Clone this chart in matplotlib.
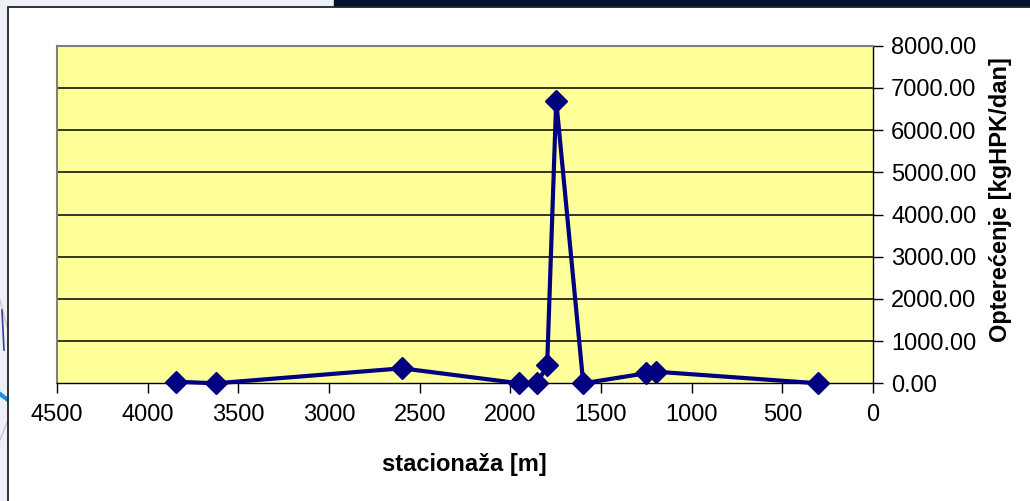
import matplotlib.pyplot as plt
from matplotlib.patches import Rectangle
from matplotlib.lines import Line2D

# stationing along the sewer [m] and load at each point [kgHPK/dan]
stacionaza = [3843, 3624, 2598, 1951, 1852, 1797, 1747, 1598, 1252, 1197, 302]
opterecenje = [38, 0, 355, 0, 0, 425, 6700, 0, 237, 275, 0]

x_ticks = [4500, 4000, 3500, 3000, 2500, 2000, 1500, 1000, 500, 0]
y_ticks = [0, 1000, 2000, 3000, 4000, 5000, 6000, 7000, 8000]

plt.rcParams['font.family'] = ['Liberation Sans', 'DejaVu Sans']

W, H = 1030, 501
fig = plt.figure(figsize=(W / 100, H / 100), dpi=100)
fig.patch.set_facecolor('#eef0f7')

def px(x, y):
    return x / W, 1 - y / H

# slide background bits around the chart frame
fig.patches.append(Rectangle(px(334, 7), (W - 334) / W, 7 / H,
                             transform=fig.transFigure, color='#02112f', zorder=0))
fig.lines.append(Line2D([0 / W, 8 / W], [1 - 300 / H, 1 - 330 / H], transform=fig.transFigure,
                        color='#e3b9c4', lw=1, zorder=0))
fig.lines.append(Line2D([0 / W, 8 / W], [1 - 440 / H, 1 - 420 / H], transform=fig.transFigure,
                        color='#e3b9c4', lw=1, zorder=0))
fig.lines.append(Line2D([2 / W, 4 / W], [1 - 310 / H, 1 - 350 / H], transform=fig.transFigure,
                        color='#3a3f9a', lw=1.2, zorder=0))
fig.lines.append(Line2D([0 / W, 8 / W], [1 - 394 / H, 1 - 400 / H], transform=fig.transFigure,
                        color='#1a8fe0', lw=3, zorder=0))

# white chart frame
fig.patches.append(Rectangle(px(8, 520), (W + 10) / W, (520 - 7) / H, transform=fig.transFigure,
                             facecolor='white', edgecolor='#222222', lw=1.3, zorder=1))

ax = fig.add_axes([57 / W, 1 - 383.3 / H, 816 / W, 337.6 / H], zorder=2)
ax.set_facecolor('#ffff99')

ax.plot(stacionaza, opterecenje, color='#000080', lw=3, marker='D', ms=11.5,
        markerfacecolor='#000080', markeredgecolor='#000080', clip_on=False, zorder=3)

ax.set_xlim(4500, 0)
ax.set_ylim(0, 8000)
ax.set_xticks(x_ticks)
ax.set_xticklabels([str(v) for v in x_ticks])
ax.set_yticks(y_ticks)
ax.set_yticklabels(['%.2f' % v for v in y_ticks])

ax.yaxis.tick_right()
ax.tick_params(axis='both', labelsize=17, direction='out', length=7, width=1, color='black')
ax.tick_params(axis='x', pad=8)
ax.tick_params(axis='y', pad=6)

for v in y_ticks[1:-1]:
    ax.axhline(v, color='black', lw=1.1, zorder=1)

ax.spines['top'].set_color('#808080')
ax.spines['left'].set_color('#808080')
ax.spines['top'].set_linewidth(1.5)
ax.spines['left'].set_linewidth(1.5)
ax.spines['right'].set_color('black')
ax.spines['bottom'].set_color('black')
ax.spines['right'].set_linewidth(1)
ax.spines['bottom'].set_linewidth(1)

fig.text(*px(464, 465), 'stacionaža [m]', ha='center', va='center',
         fontsize=17, fontweight='bold', zorder=3)
fig.text(*px(1000, 200), 'Opterećenje [kgHPK/dan]', ha='center', va='center',
         rotation=90, fontsize=17, fontweight='bold', zorder=3)

fig.savefig('out.png', dpi=100, facecolor=fig.get_facecolor())
